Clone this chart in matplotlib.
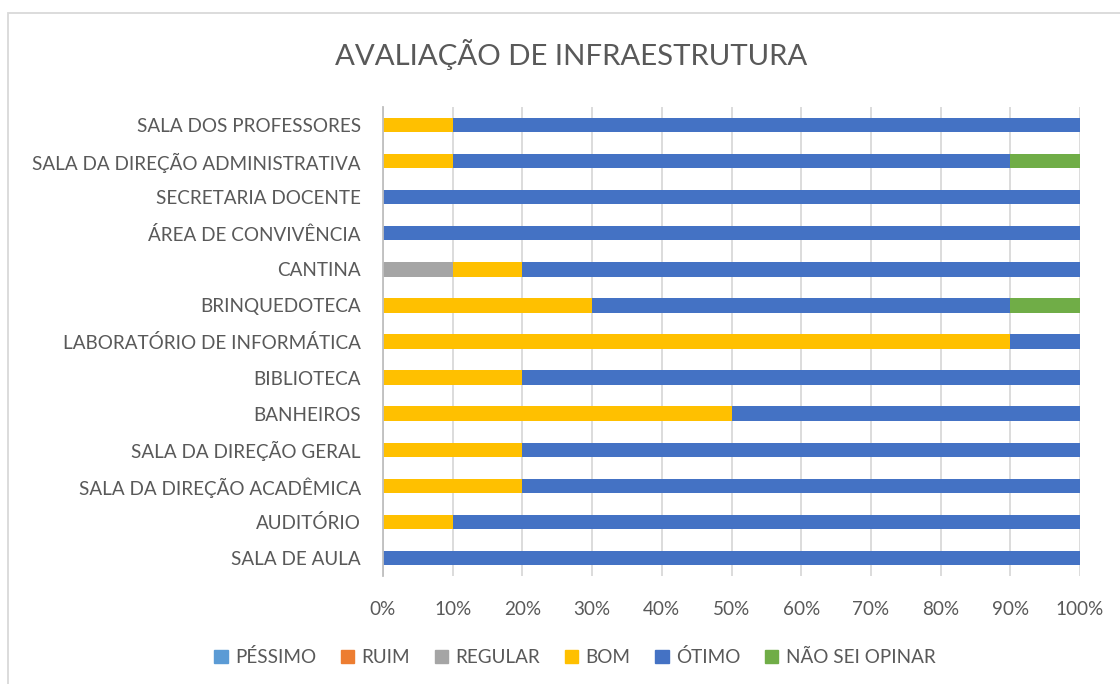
import matplotlib
matplotlib.use("Agg")
import matplotlib.pyplot as plt
import matplotlib.patches as mpatches
import numpy as np

plt.rcParams['font.family'] = ['Lato', 'DejaVu Sans']

# categories from bottom to top
categorias = ['SALA DE AULA', 'AUDITÓRIO', 'SALA DA DIREÇÃO ACADÊMICA',
              'SALA DA DIREÇÃO GERAL', 'BANHEIROS', 'BIBLIOTECA',
              'LABORATÓRIO DE INFORMÁTICA', 'BRINQUEDOTECA', 'CANTINA',
              'ÁREA DE CONVIVÊNCIA', 'SECRETARIA DOCENTE',
              'SALA DA DIREÇÃO ADMINISTRATIVA', 'SALA DOS PROFESSORES']

pessimo = [0, 0, 0, 0, 0, 0, 0, 0, 0, 0, 0, 0, 0]
ruim = [0, 0, 0, 0, 0, 0, 0, 0, 0, 0, 0, 0, 0]
regular = [0, 0, 0, 0, 0, 0, 0, 0, 10, 0, 0, 0, 0]
bom = [0, 10, 20, 20, 50, 20, 90, 30, 10, 0, 0, 10, 10]
otimo = [100, 90, 80, 80, 50, 80, 10, 60, 80, 100, 100, 80, 90]
nao_sei = [0, 0, 0, 0, 0, 0, 0, 10, 0, 0, 0, 10, 0]

series = [('PÉSSIMO', pessimo, '#5B9BD5'),
          ('RUIM', ruim, '#ED7D31'),
          ('REGULAR', regular, '#A5A5A5'),
          ('BOM', bom, '#FFC000'),
          ('ÓTIMO', otimo, '#4472C4'),
          ('NÃO SEI OPINAR', nao_sei, '#70AD47')]

cinza = '#595959'

fig = plt.figure(figsize=(11.2, 6.84), dpi=100)
ax = fig.add_axes([383 / 1120, 1 - 576 / 684, 697 / 1120, 469 / 684])

y = np.arange(len(categorias))
left = np.zeros(len(categorias))
handles = []
for nome, vals, cor in series:
    vals = np.array(vals, dtype=float)
    ax.barh(y, vals, height=0.4, left=left, color=cor, zorder=3)
    left += vals
    handles.append(mpatches.Patch(color=cor, label=nome))

ax.set_xlim(0, 100)
ax.set_ylim(-0.5, len(categorias) - 0.5)
ax.set_xticks(np.arange(0, 101, 10))
ax.set_xticklabels(['%d%%' % v for v in range(0, 101, 10)])
ax.set_yticks(y)
ax.set_yticklabels(categorias)
ax.tick_params(axis='both', length=0, labelsize=13.6, colors=cinza)
ax.tick_params(axis='y', pad=16)
ax.tick_params(axis='x', pad=18)
ax.grid(axis='x', color='#D9D9D9', linewidth=1.3, zorder=0)
for s in ['top', 'right', 'bottom']:
    ax.spines[s].set_visible(False)
ax.spines['left'].set_color('#BFBFBF')
ax.spines['left'].set_linewidth(1.3)
ax.spines['left'].set_zorder(4)

fig.text(571 / 1120, 1 - 55 / 684, 'AVALIAÇÃO DE INFRAESTRUTURA', ha='center',
         va='center', fontsize=21.2, color=cinza)

fig.legend(handles=handles, loc='center', bbox_to_anchor=(575 / 1120, 1 - 657 / 684),
           ncol=6, frameon=False, fontsize=13.6, handlelength=0.7, handleheight=0.7,
           handletextpad=0.4, columnspacing=1.3, labelcolor=cinza)

# chart frame
fig.patches.append(mpatches.Rectangle((8 / 1120, -0.2), 1.2, 1.2 - 13 / 684,
                                      transform=fig.transFigure, fill=False,
                                      edgecolor='#D9D9D9', linewidth=1.3))

fig.savefig('out.png', dpi=100)
